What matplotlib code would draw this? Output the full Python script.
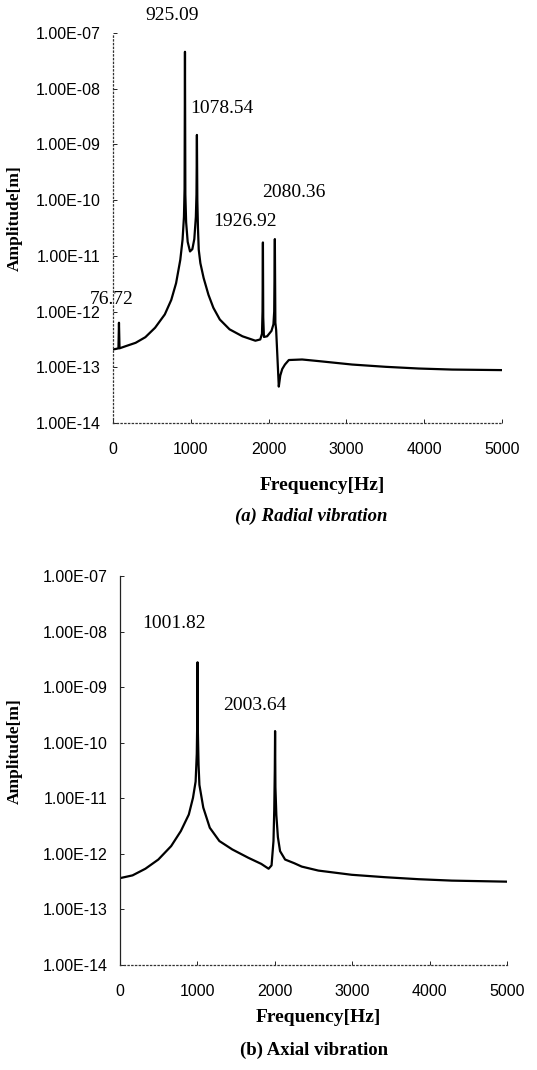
import matplotlib
matplotlib.use("Agg")
import matplotlib.pyplot as plt

# ---------------- data ----------------
radial_freq = [0, 40, 70, 76.72, 84, 166, 291, 416, 541, 666, 749, 811, 865, 894, 912, 920,
               925.09, 930, 940, 960, 990, 1020, 1045, 1065, 1073, 1078.54, 1084, 1092, 1102,
               1123, 1165, 1227, 1290, 1373, 1498, 1664, 1830, 1893, 1915, 1922, 1926.92,
               1931, 1940, 1981, 2037, 2062, 2072, 2080.36, 2087, 2097, 2131, 2150, 2175,
               2210, 2260, 2431, 2646, 3074, 3502, 3931, 4359, 5000]
radial_amp = [2.09e-13, 2.14e-13, 2.19e-13, 6.3e-13, 2.19e-13, 2.4e-13, 2.75e-13, 3.47e-13,
              5.13e-13, 8.9e-13, 1.62e-12, 3.24e-12, 8.5e-12, 1.95e-11, 5.0e-11, 1.6e-10,
              4.6e-08, 1.26e-10, 4.0e-11, 1.78e-11, 1.2e-11, 1.32e-11, 2.0e-11, 5.0e-11,
              1.26e-10, 1.48e-09, 1.0e-10, 3.2e-11, 1.29e-11,
              7.4e-12, 4.0e-12, 2.0e-12, 1.17e-12, 7.2e-13, 4.8e-13, 3.6e-13, 3.0e-13,
              3.16e-13, 4.0e-13, 1.0e-12, 1.74e-11,
              7.9e-13, 3.5e-13, 3.6e-13, 4.5e-13, 5.9e-13, 1.0e-12, 2.0e-11, 6.3e-13,
              4.7e-13, 4.5e-14, 7.1e-14, 9.3e-14,
              1.12e-13, 1.35e-13, 1.38e-13, 1.29e-13, 1.12e-13, 1.02e-13, 9.5e-14, 9.1e-14,
              8.9e-14]

axial_freq = [0, 17, 162, 328, 495, 661, 786, 889, 943, 977, 992, 998, 1001.82, 1006, 1015,
              1026, 1076, 1160, 1284, 1451, 1658, 1825, 1920, 1958, 1983, 1993, 2000,
              2003.64, 2008, 2020, 2040, 2068, 2133, 2250, 2348, 2563, 2994, 3425, 3855,
              4286, 5000]
axial_amp = [3.7e-13, 3.7e-13, 4.1e-13, 5.4e-13, 7.9e-13, 1.38e-12, 2.57e-12, 5.1e-12,
             1.02e-11, 2.0e-11, 6.3e-11, 2.5e-10, 2.8e-09, 1.6e-10, 4.0e-11,
             1.74e-11, 6.8e-12, 2.95e-12, 1.7e-12, 1.2e-12, 8.5e-13, 6.6e-13, 5.4e-13,
             6.2e-13, 1.7e-12, 6.3e-12, 3.2e-11,
             1.62e-10, 1.58e-11, 5.0e-12, 2.0e-12, 1.12e-12, 7.9e-13, 6.8e-13, 5.9e-13,
             5.0e-13, 4.2e-13, 3.8e-13, 3.5e-13, 3.3e-13, 3.16e-13]

x_ticks = [0, 1000, 2000, 3000, 4000, 5000]
y_ticks = [1e-14, 1e-13, 1e-12, 1e-11, 1e-10, 1e-9, 1e-8, 1e-7]
y_tick_labels = ["1.00E-14", "1.00E-13", "1.00E-12", "1.00E-11",
                 "1.00E-10", "1.00E-09", "1.00E-08", "1.00E-07"]

radial_peaks = ["925.09", "1078.54", "1926.92", "2080.36", "76.72"]
axial_peaks = ["1001.82", "2003.64"]

x_label = "Frequency[Hz]"
y_label = "Amplitude[m]"
captions = ["(a) Radial vibration", "(b) Axial vibration"]

# ---------------- figure ----------------
W, H = 537, 1070
fig = plt.figure(figsize=(W / 100, H / 100), dpi=100)

SANS = "Liberation Sans"
SERIF = "Liberation Serif"


def setup(ax, left_style):
    ax.set_xlim(0, 5000)
    ax.set_yscale("log")
    ax.set_ylim(1e-14, 1e-7)
    ax.set_xticks(x_ticks)
    ax.set_xticklabels([str(t) for t in x_ticks], fontfamily=SANS, fontsize=11.5)
    ax.set_yticks(y_ticks)
    ax.set_yticklabels(y_tick_labels, fontfamily=SANS, fontsize=11.5)
    ax.yaxis.set_minor_locator(matplotlib.ticker.NullLocator())
    ax.spines["top"].set_visible(False)
    ax.spines["right"].set_visible(False)
    ax.spines["bottom"].set_linestyle((0, (1, 2)))
    ax.spines["bottom"].set_linewidth(0.9)
    ax.spines["bottom"].set_color("#333333")
    if left_style == "dotted":
        ax.spines["left"].set_linestyle((0, (1, 2)))
        ax.spines["left"].set_linewidth(0.9)
        ax.spines["left"].set_color("#333333")
    else:
        ax.spines["left"].set_linewidth(0.9)
        ax.spines["left"].set_color("#222222")
    ax.tick_params(axis="y", direction="in", length=3, width=0.7, pad=9, colors="#222222")
    ax.tick_params(axis="x", direction="in", length=3, width=0.7, pad=14, colors="#222222")
    for lab in ax.get_xticklabels() + ax.get_yticklabels():
        lab.set_color("black")


# top axes (radial)
ax1 = fig.add_axes([113 / W, 1 - 423 / H, 389 / W, 390 / H])
setup(ax1, "dotted")
ax1.plot(radial_freq, radial_amp, color="black", lw=1.6)

ann_kw = dict(fontfamily=SERIF, fontsize=14, color="black", clip_on=False)
ax1.text(758, 2.1e-7, radial_peaks[0], ha="center", va="center", **ann_kw)
ax1.text(990, 4.5e-9, radial_peaks[1], ha="left", va="center", **ann_kw)
ax1.text(1285, 4.2e-11, radial_peaks[2], ha="left", va="center", **ann_kw)
ax1.text(1915, 1.35e-10, radial_peaks[3], ha="left", va="center", **ann_kw)
ax1.text(-296, 1.65e-12, radial_peaks[4], ha="left", va="center", **ann_kw)

# bottom axes (axial)
ax2 = fig.add_axes([120 / W, 1 - 965 / H, 387 / W, 389 / H])
setup(ax2, "solid")
ax2.plot(axial_freq, axial_amp, color="black", lw=1.6)
ax2.text(284, 1.4e-8, axial_peaks[0], ha="left", va="center", **ann_kw)
ax2.text(1331, 4.6e-10, axial_peaks[1], ha="left", va="center", **ann_kw)

lab_kw = dict(fontfamily=SERIF, fontweight="bold", color="black")
fig.text(322 / W, 1 - 485 / H, x_label, ha="center", va="center", fontsize=14, **lab_kw)
fig.text(318 / W, 1 - 1018 / H, x_label, ha="center", va="center", fontsize=14, **lab_kw)
fig.text(15 / W, 1 - 218 / H, y_label, ha="center", va="center", rotation=90, fontsize=12.5, **lab_kw)
fig.text(15 / W, 1 - 751 / H, y_label, ha="center", va="center", rotation=90, fontsize=12.5, **lab_kw)
fig.text(311 / W, 1 - 516 / H, captions[0], ha="center", va="center", fontsize=13.5,
         fontstyle="italic", **lab_kw)
fig.text(314 / W, 1 - 1050 / H, captions[1], ha="center", va="center", fontsize=13.5, **lab_kw)

fig.savefig("out.png", dpi=100)
